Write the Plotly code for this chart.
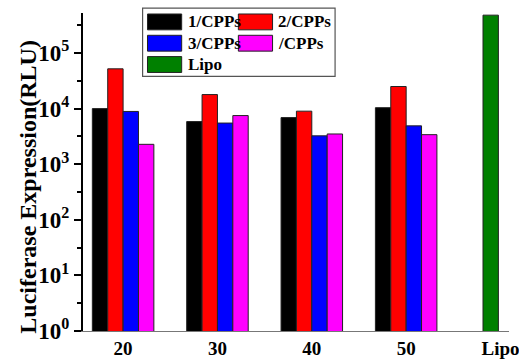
import plotly.graph_objects as go

# Luciferase expression (RLU) by N/P ratio for each carrier, plus Lipofectamine control
ratios = ["20", "30", "40", "50"]
series_names = ["1/CPPs", "2/CPPs", "3/CPPs", "/CPPs"]
series_colors = ["#000000", "#ff0000", "#0000ff", "#ff00ff"]
values = [
    [1.0e4, 5.85e3, 6.9e3, 1.04e4],   # 1/CPPs
    [5.2e4, 1.79e4, 9.0e3, 2.5e4],    # 2/CPPs
    [8.9e3, 5.5e3, 3.24e3, 4.9e3],    # 3/CPPs
    [2.28e3, 7.5e3, 3.5e3, 3.4e3],    # /CPPs
]
lipo_label = "Lipo"
lipo_value = [4.8e5]
lipo_color = "#008000"
y_exponents = [0, 1, 2, 3, 4, 5]

FONT = "Liberation Serif"
bar_w = 0.163

fig = go.Figure()
for i, (name, col, vals) in enumerate(zip(series_names, series_colors, values)):
    fig.add_trace(go.Bar(
        x=ratios, y=vals, name=name,
        marker=dict(color=col, line=dict(color="#222222", width=1)),
        width=bar_w, offset=(i - 2) * bar_w, showlegend=False,
    ))
fig.add_trace(go.Bar(
    x=[lipo_label], y=lipo_value, name=lipo_label,
    marker=dict(color=lipo_color, line=dict(color="#222222", width=1)),
    width=bar_w, offset=-bar_w / 2 - 0.104, showlegend=False,
))

# Hand-built legend box with large swatches
legend_items = [
    (series_names[0], series_colors[0], 0, 0),
    (series_names[1], series_colors[1], 1, 0),
    (series_names[2], series_colors[2], 0, 1),
    (series_names[3], series_colors[3], 1, 1),
    (lipo_label, lipo_color, 0, 2),
]
W, H = 519, 359
L, R, T, B = 83, 0, 13, 25
pw, ph = W - L - R, H - T - B


def px(x):
    return (x - L) / pw


def py(y):
    return 1 - (y - T) / ph


shapes = [dict(type="rect", xref="paper", yref="paper",
               x0=px(144), x1=px(341), y0=py(77), y1=py(8),
               line=dict(color="#555555", width=1.2), fillcolor="white")]
annotations = []
for name, col, cx, cy in legend_items:
    x0 = 149 + cx * 93
    yc = 22 + cy * 21.5
    shapes.append(dict(type="rect", xref="paper", yref="paper",
                       x0=px(x0), x1=px(x0 + 35), y0=py(yc + 8), y1=py(yc - 8),
                       line=dict(color="#222222", width=1), fillcolor=col))
    annotations.append(dict(xref="paper", yref="paper", x=px(x0 + 39), y=py(yc),
                            text=f"<b>{name}</b>", showarrow=False, xanchor="left",
                            yanchor="middle",
                            font=dict(family=FONT, size=17, color="black")))

# Y axis title
annotations.append(dict(xref="paper", yref="paper", x=px(27), y=py(188),
                        text="<b>Luciferase Expression(RLU)</b>", showarrow=False,
                        textangle=-90, xanchor="center", yanchor="middle",
                        font=dict(family=FONT, size=24, color="black")))

fig.update_layout(
    width=W, height=H,
    margin=dict(l=L, r=R, t=T, b=B),
    paper_bgcolor="white", plot_bgcolor="white",
    barmode="overlay",
    shapes=shapes, annotations=annotations,
    font=dict(family=FONT, color="black"),
)
fig.update_xaxes(
    type="category", categoryorder="array", categoryarray=ratios + [lipo_label],
    range=[-0.425, 4.09], showline=True, linecolor="#777777", linewidth=1,
    ticks="", showgrid=False, zeroline=False,
    tickfont=dict(family=FONT, size=19, color="black", weight="bold"),
)
fig.update_yaxes(
    type="log", range=[0, 5.72], showline=True, linecolor="black", linewidth=2,
    ticks="outside", ticklen=7, tickwidth=2, tickcolor="black",
    tickmode="array",
    tickvals=[10 ** n for n in y_exponents],
    ticktext=[f"<b>10<sup>{n}</sup></b>" for n in y_exponents],
    showgrid=False, zeroline=False,
    minor=dict(tickvals=[10 ** (n + 0.5) for n in y_exponents], ticks="outside",
               ticklen=4, tickwidth=2, tickcolor="black"),
    tickfont=dict(family=FONT, size=23, color="black", weight="bold"),
)

fig.write_html("out.html")
